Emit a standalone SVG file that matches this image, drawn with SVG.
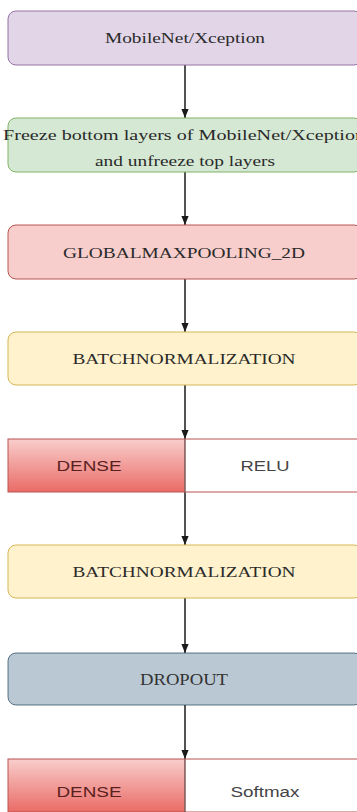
<svg xmlns="http://www.w3.org/2000/svg" width="357" height="812" viewBox="0 0 357 812">
<defs>
<linearGradient id="redGrad" x1="0" y1="0" x2="0" y2="1">
<stop offset="0" stop-color="#f8cecc"/>
<stop offset="1" stop-color="#ea6b66"/>
</linearGradient>
<marker id="arrow" viewBox="0 0 10 8" refX="10" refY="4" markerWidth="6" markerHeight="7" orient="auto" markerUnits="strokeWidth">
<path d="M0,0 L10,4 L0,8 z" fill="#1a1a1a"/>
</marker>
<style>
.serif{font-family:"Liberation Serif","Times New Roman",serif;font-size:15px;fill:#2a2a2a;text-anchor:middle;dominant-baseline:central}
.mono{font-family:"Liberation Serif","Courier New",serif;font-size:16px;fill:#333;text-anchor:middle;dominant-baseline:central}
.sans{font-family:"Liberation Sans",Arial,sans-serif;font-size:14px;text-anchor:middle;dominant-baseline:central}
.conn{stroke:#1a1a1a;stroke-width:1.5;fill:none;marker-end:url(#arrow)}
</style>
</defs>
<g id="connectors">
<line class="conn" x1="185" y1="65" x2="185" y2="118"/>
<line class="conn" x1="185" y1="172" x2="185" y2="225"/>
<line class="conn" x1="185" y1="279" x2="185" y2="332"/>
<line class="conn" x1="185" y1="385" x2="185" y2="439"/>
<line class="conn" x1="185" y1="492" x2="185" y2="545"/>
<line class="conn" x1="185" y1="598" x2="185" y2="653"/>
<line class="conn" x1="185" y1="705" x2="185" y2="759"/>
</g>
<g id="mobilenet">
<rect x="8" y="11" width="354" height="54" rx="8" fill="#e1d5e7" stroke="#9673a6"/>
<text class="serif" x="185" y="38" textLength="160" lengthAdjust="spacingAndGlyphs">MobileNet/Xception</text>
</g>
<g id="freeze">
<rect x="8" y="118" width="354" height="54" rx="8" fill="#d5e8d4" stroke="#82b366"/>
<text class="serif" x="184" y="135" textLength="362" lengthAdjust="spacingAndGlyphs">Freeze bottom layers of MobileNet/Xception</text>
<text class="serif" x="185" y="161" textLength="180" lengthAdjust="spacingAndGlyphs">and unfreeze top layers</text>
</g>
<g id="globalmaxpool">
<rect x="8" y="225" width="354" height="54" rx="8" fill="#f8cecc" stroke="#b85450"/>
<text class="serif" x="184" y="253" textLength="242" lengthAdjust="spacingAndGlyphs">GLOBALMAXPOOLING_2D</text>
</g>
<g id="batchnorm1">
<rect x="8" y="332" width="354" height="53" rx="8" fill="#fff2cc" stroke="#d6b656"/>
<text class="serif" x="184" y="359" textLength="223" lengthAdjust="spacingAndGlyphs">BATCHNORMALIZATION</text>
</g>
<g id="dense1">
<rect x="8" y="439" width="177" height="53" fill="url(#redGrad)" stroke="#b85450"/>
<rect x="185" y="439" width="177" height="53" fill="#ffffff" stroke="#b85450"/>
<line x1="185" y1="439" x2="185" y2="492" stroke="#666"/>
<text class="sans" x="89" y="466" fill="#5a1f1f" textLength="65" lengthAdjust="spacingAndGlyphs">DENSE</text>
<text class="sans" x="265" y="466" fill="#444" textLength="49" lengthAdjust="spacingAndGlyphs">RELU</text>
</g>
<g id="batchnorm2">
<rect x="8" y="545" width="354" height="53" rx="8" fill="#fff2cc" stroke="#d6b656"/>
<text class="serif" x="184" y="572" textLength="223" lengthAdjust="spacingAndGlyphs">BATCHNORMALIZATION</text>
</g>
<g id="dropout">
<rect x="8" y="653" width="354" height="52" rx="8" fill="#bac8d3" stroke="#23445d" stroke-opacity="0.7"/>
<text class="mono" x="184" y="679" textLength="88" lengthAdjust="spacingAndGlyphs">DROPOUT</text>
</g>
<g id="dense2">
<rect x="8" y="759" width="177" height="53" fill="url(#redGrad)" stroke="#b85450"/>
<rect x="185" y="759" width="177" height="53" fill="#ffffff" stroke="#b85450"/>
<line x1="185" y1="759" x2="185" y2="812" stroke="#666"/>
<text class="sans" x="89" y="792" fill="#5a1f1f" textLength="65" lengthAdjust="spacingAndGlyphs">DENSE</text>
<text class="sans" x="265" y="792" fill="#444" textLength="69" lengthAdjust="spacingAndGlyphs">Softmax</text>
</g>
</svg>
